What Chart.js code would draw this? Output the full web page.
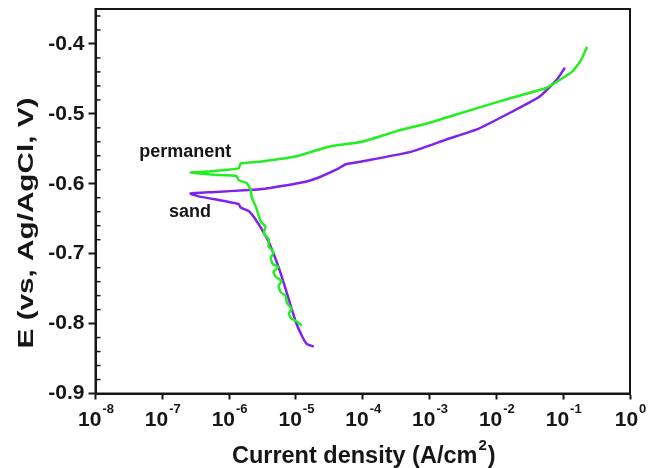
<!DOCTYPE html>
<html>
<head>
<meta charset="utf-8">
<script src="https://cdn.jsdelivr.net/npm/chart.js@4.4.1/dist/chart.umd.min.js"></script>
<style>
  body { margin: 0; background: #fff; }
  #wrap { width: 661px; height: 468px; }
</style>
</head>
<body>
<div id="wrap"><canvas id="tafelChart" width="661" height="468"></canvas></div>
<script>
// Polarization data: current density (A/cm2) and potential (V vs Ag/AgCl)
const permanentI = [1.22e-5, 1.03e-5, 8.6e-6, 7.8e-6, 8.6e-6, 7.3e-6, 7.0e-6, 5.9e-6, 5.5e-6, 6.1e-6,
    5.0e-6, 4.6e-6, 5.5e-6, 4.5e-6, 4.2e-6, 4.6e-6, 3.9e-6, 3.9e-6, 3.3e-6, 3.5e-6,
    2.97e-6, 2.58e-6, 2.41e-6, 2.17e-6, 2.10e-6, 1.83e-6, 1.39e-6, 1.29e-6, 5.9e-7, 2.65e-7,
    5.5e-7, 1.39e-6, 1.49e-6, 3.07e-6, 9.9e-6, 3.1e-5, 9.7e-5, 3.12e-4, 9.75e-4, 5.47e-3,
    0.0171, 0.0552, 0.0805, 0.135, 0.185, 0.227];
const permanentE = [-0.803, -0.797, -0.793, -0.786, -0.779, -0.770, -0.760, -0.755, -0.746, -0.739,
    -0.733, -0.726, -0.719, -0.715, -0.706, -0.698, -0.689, -0.679, -0.671, -0.661,
    -0.654, -0.636, -0.629, -0.619, -0.608, -0.599, -0.595, -0.589, -0.587, -0.584,
    -0.582, -0.578, -0.571, -0.568, -0.561, -0.547, -0.540, -0.525, -0.513, -0.491,
    -0.477, -0.463, -0.454, -0.440, -0.423, -0.404];

const sandI = [1.85e-5, 1.45e-5, 1.22e-5, 9.9e-6, 7.8e-6, 6.1e-6, 4.98e-6, 3.9e-6, 3.07e-6, 2.49e-6,
    1.96e-6, 1.49e-6, 1.39e-6, 8.9e-7, 3.5e-7, 2.65e-7, 5.5e-7, 1.96e-6, 3.5e-6, 5.5e-6,
    1.4e-5, 2.19e-5, 4.37e-5, 5.56e-5, 9.7e-5, 5.42e-4, 1.75e-3, 5.47e-3, 0.0171, 0.0434,
    0.0805, 0.106];
const sandE = [-0.833, -0.829, -0.817, -0.797, -0.765, -0.732, -0.708, -0.683, -0.665, -0.651,
    -0.639, -0.634, -0.629, -0.625, -0.618, -0.614, -0.612, -0.609, -0.607, -0.604,
    -0.597, -0.591, -0.578, -0.572, -0.568, -0.554, -0.537, -0.521, -0.497, -0.476,
    -0.451, -0.434];

const xTicks = [1e-8, 1e-7, 1e-6, 1e-5, 1e-4, 1e-3, 1e-2, 1e-1, 1];
const xExponents = ['-8', '-7', '-6', '-5', '-4', '-3', '-2', '-1', '0'];
const yTicks = [-0.9, -0.8, -0.7, -0.6, -0.5, -0.4];

// curve labels, placed in data coordinates
const curveLabels = [
    { text: 'permanent', x: 2.2e-7, y: -0.555 },
    { text: 'sand', x: 2.6e-7, y: -0.640 }
];

function toPoints(xs, ys) {
    return xs.map((x, i) => ({ x: x, y: ys[i] }));
}

const FONT = '"Liberation Sans", Arial, sans-serif';
const INK = '#161616';

// frame, inner minor ticks, x tick labels with exponents, axis titles
const decorPlugin = {
    id: 'decor',
    afterDraw(chart) {
        const ctx = chart.ctx;
        const a = chart.chartArea;
        const xs = chart.scales.x;
        const ys = chart.scales.y;
        ctx.save();
        ctx.strokeStyle = INK;
        ctx.lineWidth = 2;
        ctx.strokeRect(a.left, a.top, a.right - a.left, a.bottom - a.top);

        // minor y ticks pointing inward
        ctx.lineWidth = 1.5;
        for (let v = -0.88; v < -0.35; v += 0.02) {
            const r = Math.round(v * 100);
            if (r % 10 === 0) continue;
            const py = ys.getPixelForValue(r / 100);
            ctx.beginPath();
            ctx.moveTo(a.left, py);
            ctx.lineTo(a.left + 5, py);
            ctx.stroke();
        }

        // x tick labels 10^n
        ctx.fillStyle = INK;
        ctx.textBaseline = 'alphabetic';
        xTicks.forEach((v, i) => {
            const px = xs.getPixelForValue(v);
            ctx.font = 'bold 21px ' + FONT;
            const wBase = ctx.measureText('10').width;
            ctx.font = 'bold 13px ' + FONT;
            const wExp = ctx.measureText(xExponents[i]).width;
            const x0 = px - (wBase + wExp) / 2;
            ctx.textAlign = 'left';
            ctx.font = 'bold 21px ' + FONT;
            ctx.fillText('10', x0, 426);
            ctx.font = 'bold 13px ' + FONT;
            ctx.fillText(xExponents[i], x0 + wBase + 1, 413);
        });

        // x title with superscript 2
        const cx = (a.left + a.right) / 2;
        ctx.font = 'bold 23.5px ' + FONT;
        const t1 = 'Current density (A/cm';
        const w1 = ctx.measureText(t1).width;
        ctx.font = 'bold 15px ' + FONT;
        const w2 = ctx.measureText('2').width;
        ctx.font = 'bold 23.5px ' + FONT;
        const w3 = ctx.measureText(')').width;
        let sx = cx - (w1 + w2 + w3) / 2;
        ctx.fillText(t1, sx, 463);
        ctx.font = 'bold 15px ' + FONT;
        ctx.fillText('2', sx + w1 + 1, 450);
        ctx.font = 'bold 23.5px ' + FONT;
        ctx.fillText(')', sx + w1 + w2 + 2, 463);

        // y title, drawn stretched along its length like the original
        ctx.save();
        ctx.translate(33, 223);
        ctx.rotate(-Math.PI / 2);
        ctx.scale(1.35, 1);
        ctx.textAlign = 'center';
        ctx.font = 'bold 22px ' + FONT;
        ctx.fillText('E (vs, Ag/AgCl, V)', 0, 0);
        ctx.restore();

        // curve labels
        ctx.font = 'bold 18px ' + FONT;
        ctx.textAlign = 'center';
        ctx.textBaseline = 'middle';
        curveLabels.forEach(l => {
            ctx.fillText(l.text, xs.getPixelForValue(l.x), ys.getPixelForValue(l.y));
        });
        ctx.restore();
    }
};

const ctx = document.getElementById('tafelChart').getContext('2d');
const tafelChart = new Chart(ctx, {
    type: 'scatter',
    data: {
        datasets: [
            {
                label: 'permanent',
                data: toPoints(permanentI, permanentE),
                showLine: true,
                borderColor: '#22ee22',
                borderWidth: 2.5,
                pointRadius: 0,
                tension: 0.15
            },
            {
                label: 'sand',
                data: toPoints(sandI, sandE),
                showLine: true,
                borderColor: '#7f22ee',
                borderWidth: 2.5,
                pointRadius: 0,
                tension: 0.15
            }
        ]
    },
    options: {
        responsive: false,
        animation: false,
        layout: { padding: { left: 0, right: 31, top: 9, bottom: 0 } },
        plugins: {
            legend: { display: false },
            tooltip: { enabled: false }
        },
        scales: {
            x: {
                type: 'logarithmic',
                min: 1e-8,
                max: 1,
                afterBuildTicks: s => { s.ticks = xTicks.map(v => ({ value: v })); },
                afterFit: s => { s.height = 74.5; s.paddingLeft = 0; s.paddingRight = 0; },
                ticks: { display: false },
                grid: { display: true, drawOnChartArea: false, tickLength: 6, tickWidth: 2, tickColor: INK },
                border: { color: INK, width: 2 }
            },
            y: {
                min: -0.9,
                max: -0.35,
                afterBuildTicks: s => { s.ticks = yTicks.map(v => ({ value: v })); },
                afterFit: s => { s.width = 95.5; s.paddingTop = 0; s.paddingBottom = 0; },
                ticks: {
                    color: INK,
                    padding: 4,
                    font: { family: FONT, weight: 'bold', size: 21 },
                    callback: v => v.toFixed(1)
                },
                grid: { display: true, drawOnChartArea: false, tickLength: 7, tickWidth: 2, tickColor: INK },
                border: { color: INK, width: 2 }
            }
        }
    },
    plugins: [decorPlugin]
});
</script>
</body>
</html>
